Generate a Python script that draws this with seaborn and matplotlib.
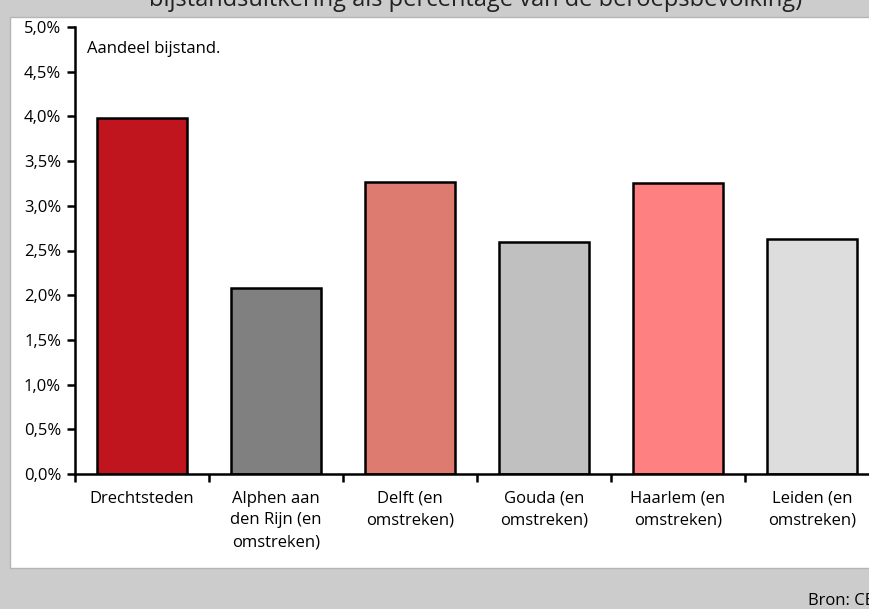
import matplotlib
matplotlib.use('Agg')
import matplotlib.pyplot as plt
import matplotlib.patches as mpatches
from matplotlib.ticker import FuncFormatter, FixedLocator
import pandas as pd
import seaborn as sns

# data
regios = ['Drechtsteden', 'Alphen aan\nden Rijn (en\nomstreken)', 'Delft (en\nomstreken)',
          'Gouda (en\nomstreken)', 'Haarlem (en\nomstreken)', 'Leiden (en\nomstreken)']
aandeel = [3.98, 2.08, 3.27, 2.59, 3.25, 2.63]
kleuren = ['#c0141f', '#808080', '#de7b70', '#c0c0c0', '#ff8080', '#dddddd']

sns.set_style('white')
plt.rcParams['font.family'] = ['Open Sans', 'DejaVu Sans']
plt.rcParams['text.color'] = 'black'
plt.rcParams['xtick.color'] = 'black'
plt.rcParams['ytick.color'] = 'black'

df = pd.DataFrame({'regio': regios, 'aandeel': aandeel})

fig = plt.figure(figsize=(8.69, 6.09), dpi=100)
fig.patch.set_facecolor('#cccccc')
# witte kader achter de grafiek
fig.patches.append(mpatches.Rectangle((10 / 869, 1 - 568 / 609), 1.0, (568 - 17) / 609,
                                      transform=fig.transFigure, facecolor='white',
                                      edgecolor='#b5b5b5', linewidth=1, zorder=-5))

ax = fig.add_axes([75 / 869, 1 - 474 / 609, 804 / 869, (474 - 27) / 609])
ax.set_zorder(2)
ax.patch.set_alpha(0)
sns.barplot(data=df, x='regio', y='aandeel', hue='regio', palette=kleuren, legend=False,
            saturation=1, width=0.67, edgecolor='black', linewidth=1.8, ax=ax)

ax.set_xlim(-0.5, len(regios) - 0.5)
ax.set_ylim(0, 5.0)
ax.set_yticks([i * 0.5 for i in range(11)])
ax.yaxis.set_major_formatter(FuncFormatter(lambda v, p: f'{v:.1f}%'.replace('.', ',')))
ax.xaxis.set_minor_locator(FixedLocator([i - 0.5 for i in range(len(regios) + 1)]))
ax.tick_params(axis='x', which='major', bottom=True, length=0, pad=12, labelsize=12)
ax.tick_params(axis='x', which='minor', bottom=True, length=6, width=1.8, direction='out')
ax.tick_params(axis='y', left=True, length=6, width=1.8, direction='out', labelsize=12, pad=4)
for lbl in ax.get_xticklabels():
    lbl.set_horizontalalignment('center')
    lbl.set_linespacing(1.48)
ax.set_xlabel('')
ax.set_ylabel('')
sns.despine(ax=ax)
ax.spines['left'].set_linewidth(1.8)
ax.spines['bottom'].set_linewidth(1.8)
ax.spines['left'].set_color('black')
ax.spines['bottom'].set_color('black')

ax.text(12 / 804, 0.95, 'Aandeel bijstand.', transform=ax.transAxes, fontsize=12, va='center')

fig.text(476 / 869, 1 - 6 / 609, 'bijstandsuitkering als percentage van de beroepsbevolking)',
         ha='center', va='baseline', fontsize=17, color='#222222')
fig.text(808 / 869, 1 - 601 / 609, 'Bron: CBS', ha='left', va='center', fontsize=12)

fig.savefig('out.png', dpi=100, facecolor=fig.get_facecolor())
